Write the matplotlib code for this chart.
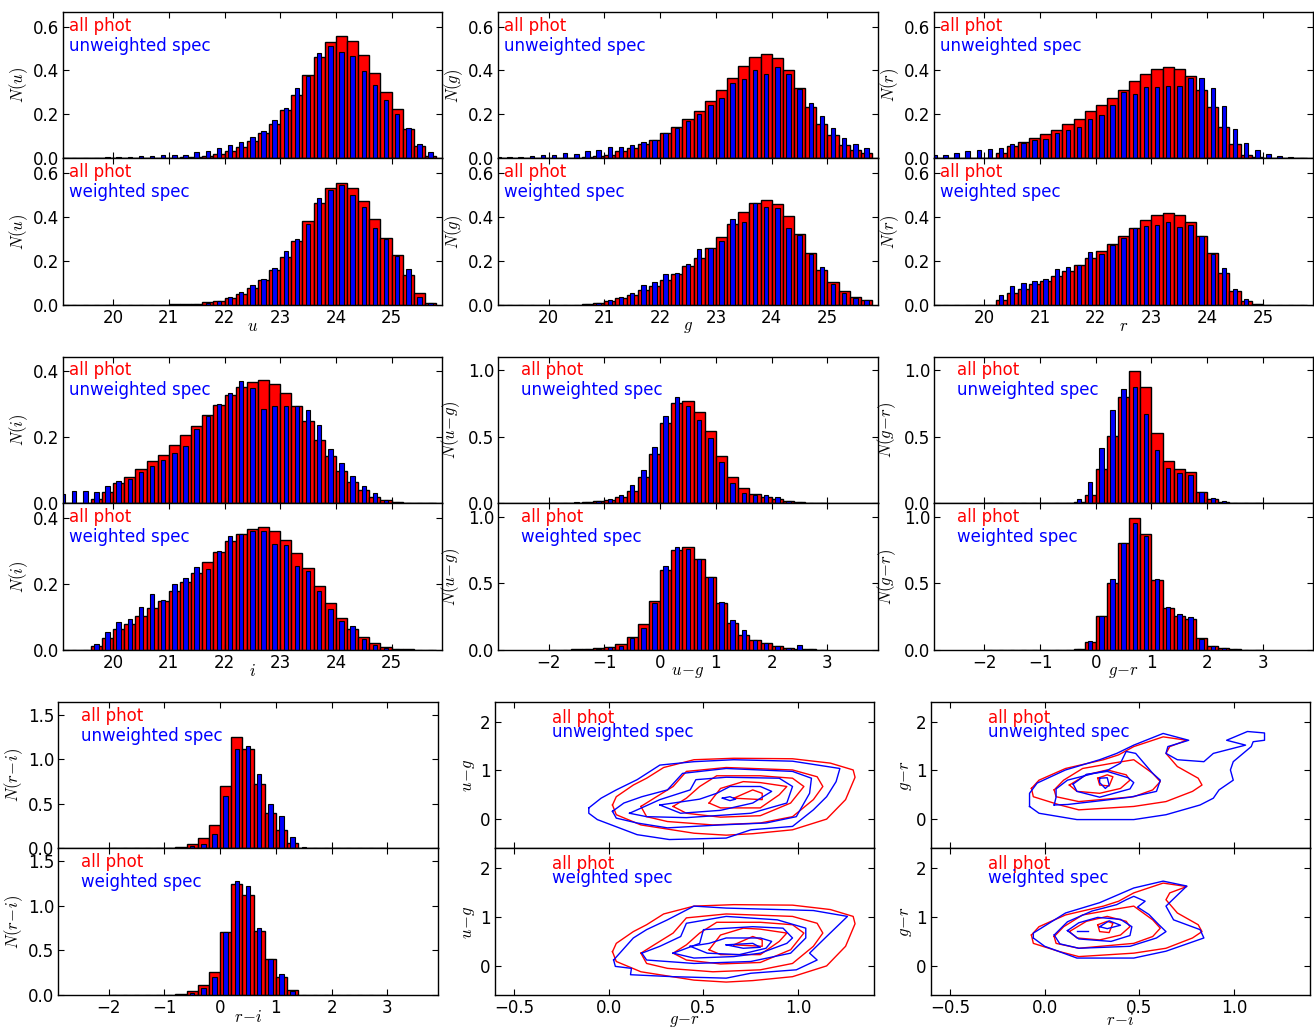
import numpy as np
import matplotlib
matplotlib.use('Agg')
import matplotlib.pyplot as plt

plt.rcParams['mathtext.fontset'] = 'cm'
plt.rcParams['font.family'] = 'DejaVu Sans'
plt.rcParams['font.size'] = 12

# ---------------- data ----------------
# magnitude bins (0.2 mag) and colour bins (0.2 mag)
mag_edges = np.round(np.arange(19.0, 25.9, 0.2), 1)
col_edges = np.round(np.arange(-2.0, 3.1, 0.2), 1)

u_phot = [0.0, 0.0, 0.001, 0.001, 0.001, 0.001, 0.001, 0.001, 0.002, 0.002, 0.003, 0.004, 0.006, 0.012, 0.02,
          0.032, 0.052, 0.077, 0.115, 0.157, 0.218, 0.289, 0.379, 0.462, 0.53, 0.555, 0.532, 0.471, 0.389, 0.302,
          0.226, 0.135, 0.055, 0.011]
u_unw = [0.002, 0.003, 0.003, 0.003, 0.006, 0.006, 0.008, 0.009, 0.009, 0.017, 0.017, 0.017, 0.029, 0.032, 0.048,
         0.059, 0.073, 0.095, 0.123, 0.173, 0.227, 0.321, 0.376, 0.48, 0.512, 0.483, 0.467, 0.397, 0.333, 0.267,
         0.2, 0.136, 0.067, 0.027]
u_w = [0.0, 0.0, 0.0, 0.0, 0.0, 0.0, 0.0, 0.0, 0.0, 0.0, 0.001, 0.002, 0.004, 0.008, 0.02,
       0.038, 0.057, 0.092, 0.117, 0.168, 0.245, 0.3, 0.368, 0.487, 0.523, 0.546, 0.5, 0.445, 0.35, 0.298,
       0.224, 0.165, 0.035, 0.01]

g_phot = [0.0, 0.0, 0.0, 0.0, 0.001, 0.001, 0.001, 0.002, 0.004, 0.009, 0.017, 0.032, 0.047, 0.067, 0.085,
          0.115, 0.141, 0.177, 0.215, 0.259, 0.309, 0.368, 0.421, 0.462, 0.477, 0.458, 0.402, 0.321, 0.235, 0.158,
          0.105, 0.062, 0.038, 0.023]
g_unw = [0.005, 0.007, 0.008, 0.01, 0.014, 0.014, 0.023, 0.021, 0.032, 0.036, 0.05, 0.052, 0.061, 0.074, 0.085,
         0.115, 0.138, 0.168, 0.203, 0.244, 0.274, 0.345, 0.359, 0.4, 0.386, 0.414, 0.382, 0.317, 0.253, 0.191,
         0.139, 0.094, 0.064, 0.045]
g_w = [0.0, 0.0, 0.0, 0.0, 0.0, 0.0, 0.001, 0.001, 0.003, 0.01, 0.022, 0.034, 0.056, 0.092, 0.105,
       0.14, 0.147, 0.188, 0.254, 0.26, 0.288, 0.39, 0.375, 0.461, 0.446, 0.441, 0.35, 0.318, 0.233, 0.173,
       0.095, 0.056, 0.03, 0.021]

r_phot = [0.0, 0.0, 0.0, 0.0, 0.0, 0.002, 0.024, 0.056, 0.073, 0.094, 0.109, 0.13, 0.156, 0.18, 0.214,
          0.244, 0.276, 0.311, 0.35, 0.386, 0.406, 0.418, 0.406, 0.374, 0.312, 0.235, 0.144, 0.064, 0.017, 0.004,
          0.001, 0.001, 0.0, 0.0]
r_unw = [0.014, 0.015, 0.024, 0.032, 0.036, 0.041, 0.045, 0.067, 0.071, 0.085, 0.086, 0.115, 0.127, 0.142, 0.18,
         0.198, 0.244, 0.3, 0.291, 0.323, 0.326, 0.33, 0.33, 0.364, 0.368, 0.321, 0.239, 0.135, 0.068, 0.039,
         0.021, 0.011, 0.005, 0.003]
r_w = [0.0, 0.0, 0.0, 0.0, 0.001, 0.002, 0.047, 0.087, 0.098, 0.11, 0.119, 0.164, 0.174, 0.183, 0.238,
       0.232, 0.274, 0.302, 0.349, 0.359, 0.364, 0.374, 0.355, 0.361, 0.311, 0.232, 0.168, 0.074, 0.026, 0.003,
       0.001, 0.0, 0.0, 0.0]

i_phot = [0.0, 0.0, 0.001, 0.012, 0.035, 0.062, 0.08, 0.102, 0.128, 0.147, 0.177, 0.206, 0.234, 0.265, 0.297,
          0.328, 0.35, 0.366, 0.372, 0.36, 0.333, 0.294, 0.247, 0.192, 0.142, 0.098, 0.063, 0.039, 0.02, 0.009,
          0.004, 0.002, 0.001, 0.0]
i_unw = [0.029, 0.037, 0.037, 0.034, 0.052, 0.068, 0.072, 0.093, 0.112, 0.13, 0.153, 0.172, 0.223, 0.262, 0.3,
         0.334, 0.368, 0.348, 0.285, 0.294, 0.293, 0.294, 0.282, 0.235, 0.165, 0.122, 0.083, 0.052, 0.03, 0.01,
         0.005, 0.002, 0.001, 0.0]
i_w = [0.0, 0.0, 0.001, 0.019, 0.054, 0.084, 0.094, 0.129, 0.17, 0.152, 0.2, 0.218, 0.25, 0.245, 0.298,
       0.344, 0.35, 0.359, 0.36, 0.32, 0.317, 0.255, 0.24, 0.177, 0.124, 0.088, 0.073, 0.034, 0.016, 0.005,
       0.002, 0.0, 0.0, 0.0]

ug_phot = [0.002, 0.003, 0.005, 0.008, 0.015, 0.025, 0.045, 0.095, 0.195, 0.37, 0.6, 0.75, 0.77, 0.685, 0.545,
           0.355, 0.2, 0.115, 0.072, 0.05, 0.03, 0.018, 0.01, 0.005, 0.002]
ug_unw = [0.0, 0.003, 0.007, 0.01, 0.015, 0.03, 0.062, 0.137, 0.247, 0.42, 0.652, 0.8, 0.728, 0.622, 0.487,
          0.307, 0.15, 0.08, 0.06, 0.06, 0.045, 0.02, 0.008, 0.004, 0.0]
ug_w = [0.0, 0.001, 0.003, 0.005, 0.01, 0.02, 0.032, 0.087, 0.162, 0.354, 0.628, 0.773, 0.758, 0.686, 0.55,
        0.362, 0.224, 0.15, 0.075, 0.05, 0.03, 0.012, 0.035, 0.005, 0.0]

gr_phot = [0.0, 0.0, 0.0, 0.0, 0.0, 0.0, 0.0, 0.003, 0.006, 0.06, 0.255, 0.505, 0.8, 0.99, 0.87,
           0.525, 0.318, 0.255, 0.233, 0.088, 0.03, 0.012, 0.005, 0.002, 0.0]
gr_unw = [0.0, 0.0, 0.0, 0.0, 0.0, 0.0, 0.0, 0.005, 0.03, 0.16, 0.413, 0.7, 0.855, 0.868, 0.668,
          0.398, 0.263, 0.23, 0.213, 0.088, 0.04, 0.015, 0.005, 0.0, 0.0]
gr_w = [0.0, 0.0, 0.0, 0.0, 0.0, 0.0, 0.0, 0.0, 0.005, 0.07, 0.257, 0.531, 0.803, 0.95, 0.853,
        0.529, 0.324, 0.267, 0.249, 0.08, 0.032, 0.012, 0.004, 0.0, 0.0]

ri_phot = [0.0, 0.0, 0.0, 0.0, 0.0, 0.005, 0.02, 0.045, 0.112, 0.262, 0.705, 1.245, 1.117, 0.72, 0.4,
           0.2, 0.06, 0.005, 0.0, 0.0, 0.0, 0.0, 0.0, 0.0, 0.0]
ri_unw = [0.0, 0.0, 0.0, 0.0, 0.0, 0.0, 0.005, 0.026, 0.05, 0.16, 0.59, 1.113, 1.144, 0.84, 0.495,
          0.364, 0.131, 0.01, 0.0, 0.0, 0.0, 0.0, 0.0, 0.0, 0.0]
ri_w = [0.0, 0.0, 0.0, 0.0, 0.0, 0.0, 0.005, 0.026, 0.086, 0.2, 0.707, 1.274, 1.218, 0.756, 0.4,
        0.237, 0.053, 0.002, 0.0, 0.0, 0.0, 0.0, 0.0, 0.0, 0.0]

# contour lines, (x, y) vertices
ug_gr_phot = [
    [(0.02, 0.29), (0.04, 0.09), (0.17, -0.12), (0.45, -0.29), (0.62, -0.33), (0.76, -0.30), (0.97, -0.22),
     (1.15, 0.0), (1.25, 0.40), (1.30, 0.86), (1.29, 1.01), (1.17, 1.15), (0.97, 1.24), (0.66, 1.25),
     (0.45, 1.22), (0.29, 1.06), (0.20, 0.84), (0.13, 0.70), (0.04, 0.46), (0.02, 0.29)],
    [(0.17, 0.26), (0.20, 0.05), (0.31, -0.05), (0.55, -0.12), (0.80, -0.08), (0.97, 0.05), (1.08, 0.40),
     (1.13, 0.67), (1.10, 0.87), (0.97, 1.01), (0.62, 1.06), (0.41, 0.98), (0.34, 0.67), (0.24, 0.43),
     (0.17, 0.26)],
    [(0.34, 0.26), (0.41, 0.12), (0.59, 0.04), (0.80, 0.07), (0.96, 0.33), (1.03, 0.67), (0.97, 0.84),
     (0.80, 0.89), (0.57, 0.89), (0.48, 0.67), (0.41, 0.43), (0.34, 0.26)],
    [(0.53, 0.33), (0.59, 0.23), (0.80, 0.23), (0.90, 0.50), (0.94, 0.67), (0.80, 0.75), (0.71, 0.77),
     (0.59, 0.63), (0.53, 0.33)],
    [(0.66, 0.43), (0.81, 0.40), (0.81, 0.53), (0.76, 0.60), (0.66, 0.43)],
]
ug_gr_unw = [
    [(-0.105, 0.23), (-0.105, 0.12), (-0.06, -0.01), (0.15, -0.32), (0.32, -0.42), (0.62, -0.39),
     (0.75, -0.22), (0.97, -0.15), (1.08, 0.19), (1.15, 0.46), (1.20, 0.77), (1.22, 1.04), (0.97, 1.19),
     (0.66, 1.22), (0.45, 1.18), (0.27, 1.11), (0.15, 0.81), (0.04, 0.60), (-0.04, 0.43), (-0.105, 0.23)],
    [(0.02, 0.16), (0.04, 0.02), (0.15, -0.08), (0.31, -0.18), (0.59, -0.12), (0.83, -0.08), (0.99, 0.05),
     (1.06, 0.53), (1.07, 0.84), (0.97, 0.98), (0.62, 1.04), (0.39, 0.94), (0.31, 0.60), (0.175, 0.46),
     (0.08, 0.33), (0.02, 0.16)],
    [(0.11, 0.12), (0.20, 0.05), (0.41, 0.03), (0.75, 0.12), (0.94, 0.33), (0.97, 0.67), (0.90, 0.84),
     (0.62, 0.86), (0.46, 0.81), (0.43, 0.60), (0.27, 0.40), (0.11, 0.12)],
    [(0.27, 0.29), (0.38, 0.12), (0.59, 0.18), (0.76, 0.33), (0.86, 0.57), (0.80, 0.67), (0.64, 0.67),
     (0.57, 0.53), (0.48, 0.41), (0.27, 0.29)],
    [(0.60, 0.43), (0.64, 0.46), (0.67, 0.41), (0.64, 0.38), (0.60, 0.43)],
]
ug_gr_w = [
    [(0.026, 0.12), (0.035, -0.01), (0.12, -0.05), (0.115, -0.18), (0.34, -0.22), (0.62, -0.25),
     (0.75, -0.15), (0.99, -0.08), (1.10, 0.12), (1.06, 0.26), (1.15, 0.60), (1.26, 1.01), (1.08, 1.13),
     (0.62, 1.18), (0.45, 1.22), (0.31, 0.94), (0.20, 0.74), (0.13, 0.57), (0.026, 0.12)],
    [(0.175, 0.26), (0.20, 0.12), (0.45, 0.05), (0.75, 0.09), (0.96, 0.26), (1.04, 0.57), (1.04, 0.77),
     (0.89, 0.94), (0.62, 1.01), (0.41, 0.87), (0.38, 0.60), (0.27, 0.40), (0.175, 0.26)],
    [(0.34, 0.26), (0.45, 0.16), (0.66, 0.19), (0.80, 0.26), (0.94, 0.46), (0.97, 0.57), (0.92, 0.77),
     (0.76, 0.80), (0.50, 0.74), (0.48, 0.46), (0.39, 0.33), (0.34, 0.26)],
    [(0.43, 0.40), (0.52, 0.26), (0.69, 0.23), (0.83, 0.36), (0.86, 0.50), (0.80, 0.57), (0.62, 0.57),
     (0.53, 0.46), (0.43, 0.40)],
    [(0.62, 0.43), (0.71, 0.36), (0.80, 0.38), (0.76, 0.46), (0.62, 0.43)],
]

gr_ri_phot = [
    [(-0.07, 0.63), (-0.06, 0.46), (0.08, 0.29), (0.18, 0.19), (0.47, 0.26), (0.64, 0.36), (0.78, 0.57),
     (0.83, 0.70), (0.81, 0.84), (0.70, 1.08), (0.64, 1.35), (0.66, 1.49), (0.75, 1.62), (0.625, 1.69),
     (0.47, 1.49), (0.39, 1.32), (0.31, 1.22), (0.11, 1.04), (-0.03, 0.80), (-0.07, 0.63)],
    [(0.05, 0.60), (0.06, 0.46), (0.18, 0.36), (0.47, 0.46), (0.57, 0.60), (0.61, 0.77), (0.57, 0.94),
     (0.47, 1.22), (0.36, 1.15), (0.20, 1.04), (0.10, 0.80), (0.05, 0.60)],
    [(0.13, 0.70), (0.17, 0.57), (0.29, 0.53), (0.40, 0.63), (0.45, 0.80), (0.43, 0.91), (0.33, 1.01),
     (0.22, 0.91), (0.13, 0.70)],
    [(0.28, 0.84), (0.29, 0.70), (0.34, 0.68), (0.36, 0.87), (0.33, 0.91), (0.28, 0.84)],
]
gr_ri_unw = [
    [(-0.08, 0.26), (-0.03, 0.12), (0.17, -0.01), (0.47, -0.01), (0.64, 0.09), (0.82, 0.29), (0.89, 0.43),
     (0.92, 0.60), (0.995, 0.80), (0.98, 1.01), (0.995, 1.18), (1.09, 1.49), (1.10, 1.59), (1.16, 1.62),
     (1.16, 1.77), (1.07, 1.80), (0.96, 1.62), (1.06, 1.52), (0.89, 1.35), (0.84, 1.18), (0.70, 1.22),
     (0.64, 1.35), (0.65, 1.49), (0.76, 1.62), (0.625, 1.76), (0.47, 1.52), (0.38, 1.35), (0.29, 1.22),
     (0.11, 1.01), (-0.04, 0.74), (-0.08, 0.53), (-0.08, 0.26)],
    [(0.05, 0.29), (0.06, 0.45), (0.06, 0.62), (0.12, 0.80), (0.25, 0.93), (0.33, 1.00), (0.40, 1.15),
     (0.43, 1.39), (0.48, 1.35), (0.57, 0.94), (0.61, 0.80), (0.59, 0.57), (0.45, 0.45), (0.30, 0.38),
     (0.12, 0.30), (0.05, 0.29)],
    [(0.15, 0.72), (0.17, 0.57), (0.29, 0.45), (0.45, 0.62), (0.47, 0.75), (0.44, 0.85), (0.33, 0.98),
     (0.22, 0.92), (0.15, 0.72)],
    [(0.29, 0.84), (0.33, 0.85), (0.34, 0.70), (0.32, 0.63), (0.29, 0.75), (0.29, 0.84)],
]
gr_ri_w = [
    [(-0.06, 0.57), (0.0, 0.40), (0.17, 0.16), (0.47, 0.16), (0.64, 0.30), (0.84, 0.57), (0.82, 0.74),
     (0.68, 0.94), (0.64, 1.22), (0.75, 1.63), (0.625, 1.73), (0.47, 1.59), (0.29, 1.29), (0.11, 1.08),
     (-0.06, 0.67), (-0.06, 0.57)],
    [(0.05, 0.63), (0.08, 0.45), (0.18, 0.36), (0.45, 0.40), (0.59, 0.57), (0.64, 0.70), (0.60, 0.85),
     (0.55, 1.05), (0.49, 1.20), (0.53, 1.32), (0.47, 1.42), (0.43, 1.35), (0.38, 1.25), (0.25, 1.12),
     (0.12, 0.90), (0.05, 0.63)],
    [(0.12, 0.72), (0.18, 0.55), (0.35, 0.50), (0.45, 0.62), (0.46, 0.80), (0.40, 0.95), (0.28, 0.99),
     (0.18, 0.88), (0.12, 0.72)],
    [(0.29, 0.80), (0.33, 0.76), (0.40, 0.83), (0.34, 0.92), (0.29, 0.80)],
    [(0.17, 0.72), (0.23, 0.72)],
]

# ---------------- layout ----------------
W, H = 1314, 1027
fig = plt.figure(figsize=(W / 100., H / 100.), dpi=100)
fig.patch.set_facecolor('white')


def rect(x0, x1, y0, y1):
    return [x0 / W, 1 - y1 / H, (x1 - x0) / W, (y1 - y0) / H]


def style(ax):
    ax.tick_params(direction='in', top=True, right=True, length=4, width=0.8, pad=3, labelsize=12)
    for s in ax.spines.values():
        s.set_linewidth(1.0)


def hist_panel(ax, edges, phot, spec, label, xlim, ylim, yticks, xticks, tx):
    edges = np.asarray(edges)
    w = np.diff(edges)
    ax.bar(edges[:-1], phot, width=w, align='edge', color='red', edgecolor='k', linewidth=1.0)
    ax.bar(edges[:-1] + w / 2, spec, width=0.4 * w, align='center', color='blue', edgecolor='k',
           linewidth=0.8)
    ax.set_xlim(*xlim)
    ax.set_ylim(0, ylim)
    ax.set_yticks(yticks)
    ax.set_xticks(xticks)
    style(ax)
    tr = ax.get_xaxis_transform()
    ax.text(tx, 0.905, 'all phot', color='red', transform=tr, ha='left', va='center', fontsize=12)
    ax.text(tx, 0.77, label, color='blue', transform=tr, ha='left', va='center', fontsize=12)


def hist_pair(box, edges, phot, unw, wt, var, xlim, ylim, yticks, xticks, tx, ylx):
    x0, x1, ytop, ymid, ybot = box
    ax1 = fig.add_axes(rect(x0, x1, ytop, ymid))
    ax2 = fig.add_axes(rect(x0, x1, ymid, ybot))
    hist_panel(ax1, edges, phot, unw, 'unweighted spec', xlim, ylim, yticks, xticks, tx)
    hist_panel(ax2, edges, phot, wt, 'weighted spec', xlim, ylim, yticks, xticks, tx)
    ax1.set_xticklabels([])
    for ax in (ax1, ax2):
        ax.set_ylabel('$N(%s)$' % var, fontsize=12)
        ax.yaxis.set_label_coords(ylx, 0.5)
    ax2.set_xlabel('$%s$' % var, fontsize=12)
    ax2.xaxis.set_label_coords(0.5, -0.085)


def contour_panel(ax, phot_lines, spec_lines, label, yl):
    for ln in phot_lines:
        a = np.array(ln)
        ax.plot(a[:, 0], a[:, 1], color='red', lw=1.0)
    for ln in spec_lines:
        a = np.array(ln)
        ax.plot(a[:, 0], a[:, 1], color='blue', lw=1.0)
    ax.set_xlim(-0.6, 1.4)
    ax.set_ylim(-0.6, 2.4)
    ax.set_xticks([-0.5, 0.0, 0.5, 1.0])
    ax.set_yticks([0, 1, 2])
    style(ax)
    tr = ax.get_xaxis_transform()
    ax.text(-0.3, 0.89, 'all phot', color='red', transform=tr, ha='left', va='center', fontsize=12)
    ax.text(-0.3, 0.795, label, color='blue', transform=tr, ha='left', va='center', fontsize=12)
    ax.set_ylabel('$%s$' % yl, fontsize=12)


def contour_pair(box, phot, unw, wt, xl, yl, ylx):
    x0, x1, ytop, ymid, ybot = box
    ax1 = fig.add_axes(rect(x0, x1, ytop, ymid))
    ax2 = fig.add_axes(rect(x0, x1, ymid, ybot))
    contour_panel(ax1, phot, unw, 'unweighted spec', yl)
    contour_panel(ax2, phot, wt, 'weighted spec', yl)
    ax1.set_xticklabels([])
    for ax in (ax1, ax2):
        ax.yaxis.set_label_coords(ylx, 0.5)
    ax2.set_xlabel('$%s$' % xl, fontsize=12)
    ax2.xaxis.set_label_coords(0.5, -0.105)


mag_xlim = (19.1, 25.9)
col_xlim = (-2.9, 3.9)
mag_ticks = [20, 21, 22, 23, 24, 25]
col_ticks = [-2, -1, 0, 1, 2, 3]

row1 = (12.3, 158.3, 305.0)
row2 = (356.5, 503.3, 650.0)
row3 = (702.3, 848.3, 995.3)

hist_pair((63, 441.7) + row1, mag_edges, u_phot, u_unw, u_w, 'u', mag_xlim, 0.665,
          [0.0, 0.2, 0.4, 0.6], mag_ticks, 19.2, -0.087)
hist_pair((498.3, 877.7) + row1, mag_edges, g_phot, g_unw, g_w, 'g', mag_xlim, 0.665,
          [0.0, 0.2, 0.4, 0.6], mag_ticks, 19.2, -0.087)
hist_pair((934.3, 1313) + row1, mag_edges, r_phot, r_unw, r_w, 'r', mag_xlim, 0.665,
          [0.0, 0.2, 0.4, 0.6], mag_ticks, 19.2, -0.087)

hist_pair((63, 441.7) + row2, mag_edges, i_phot, i_unw, i_w, 'i', mag_xlim, 0.443,
          [0.0, 0.2, 0.4], mag_ticks, 19.2, -0.087)
hist_pair((498.3, 877.7) + row2, col_edges, ug_phot, ug_unw, ug_w, 'u\\!-\\!g', col_xlim, 1.1,
          [0.0, 0.5, 1.0], col_ticks, -2.5, -0.096)
hist_pair((934.3, 1313) + row2, col_edges, gr_phot, gr_unw, gr_w, 'g\\!-\\!r', col_xlim, 1.1,
          [0.0, 0.5, 1.0], col_ticks, -2.5, -0.096)

hist_pair((58.3, 437.7) + row3, col_edges, ri_phot, ri_unw, ri_w, 'r\\!-\\!i', col_xlim, 1.64,
          [0.0, 0.5, 1.0, 1.5], col_ticks, -2.5, -0.088)
contour_pair((495, 874) + row3, ug_gr_phot, ug_gr_unw, ug_gr_w, 'g\\!-\\!r', 'u\\!-\\!g', -0.047)
contour_pair((931, 1310) + row3, gr_ri_phot, gr_ri_unw, gr_ri_w, 'r\\!-\\!i', 'g\\!-\\!r', -0.045)

fig.savefig('out.png', dpi=100, facecolor='white')
